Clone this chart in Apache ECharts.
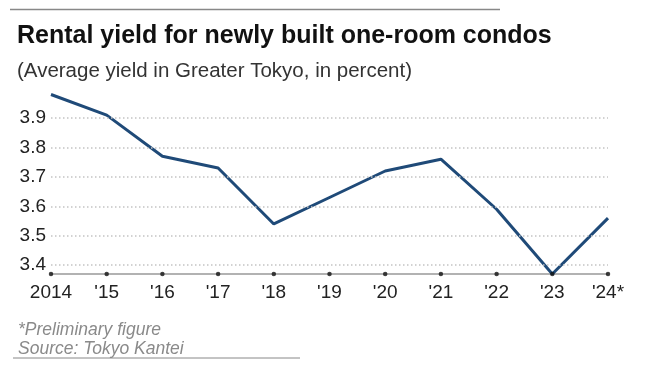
<!DOCTYPE html>
<html><head><meta charset="utf-8">
<script src="https://cdn.jsdelivr.net/npm/echarts@6/dist/echarts.min.js"></script>
<style>html,body{margin:0;padding:0;background:#fff}#c{width:662px;height:369px}</style>
</head><body><div id="c"></div>
<script>
const categories = ['2014', "'15", "'16", "'17", "'18", "'19", "'20", "'21", "'22", "'23", "'24*"];
const yieldValues = [3.98, 3.91, 3.77, 3.73, 3.54, 3.63, 3.72, 3.76, 3.59, 3.37, 3.56];
const yTicks = [3.4, 3.5, 3.6, 3.7, 3.8, 3.9];
const yMin = 3.37, yMax = 4.0;

const chart = echarts.init(document.getElementById('c'), null, {renderer: 'canvas'});
const font = '"Liberation Sans", Arial, sans-serif';
chart.setOption({
  animation: false,
  backgroundColor: '#fff',
  title: [
    {text: 'Rental yield for newly built one-room condos', left: 12, top: 19,
     textStyle: {fontFamily: font, fontSize: 25, fontWeight: 'bold', color: '#111'}},
    {text: '(Average yield in Greater Tokyo, in percent)', left: 12, top: 56,
     textStyle: {fontFamily: font, fontSize: 20.5, fontWeight: 'normal', color: '#333'}},
    {text: '*Preliminary figure', left: 13, top: 316,
     textStyle: {fontFamily: font, fontSize: 17.5, fontWeight: 'normal', fontStyle: 'italic', color: '#8a8a8a'}},
    {text: 'Source: Tokyo Kantei', left: 13, top: 335,
     textStyle: {fontFamily: font, fontSize: 17.5, fontWeight: 'normal', fontStyle: 'italic', color: '#8a8a8a'}}
  ],
  graphic: [
    {type: 'line', shape: {x1: 10, y1: 9.5, x2: 500, y2: 9.5}, style: {stroke: '#888', lineWidth: 1.5}},
    {type: 'line', shape: {x1: 13, y1: 358, x2: 300, y2: 358}, style: {stroke: '#888', lineWidth: 1}}
  ],
  grid: {left: 51, right: 54, top: 88.6, bottom: 95, containLabel: false},
  xAxis: {
    type: 'category', data: categories, boundaryGap: false,
    axisLine: {lineStyle: {color: '#999', width: 1.5}},
    axisTick: {show: false},
    axisLabel: {fontFamily: font, fontSize: 19, color: '#222', margin: 9}
  },
  yAxis: {
    type: 'value', min: yMin, max: yMax,
    axisLine: {show: false}, axisTick: {show: false}, splitLine: {show: false},
    axisLabel: {customValues: yTicks, fontFamily: font, fontSize: 19, color: '#222', margin: 5,
      formatter: v => v.toFixed(1)}
  },
  series: [
    {type: 'line', data: yieldValues, symbol: 'none', clip: false, z: 3,
     lineStyle: {color: '#1f4a78', width: 3},
     markLine: {silent: true, symbol: 'none', label: {show: false},
       lineStyle: {color: '#c4c4c4', type: [1.5, 2.5], width: 1.5},
       data: yTicks.map(v => ({yAxis: v}))}},
    {type: 'scatter', data: categories.map(() => yMin), symbol: 'circle', symbolSize: 4.5, clip: false, z: 4,
     itemStyle: {color: '#111'}}
  ]
});
</script></body></html>
